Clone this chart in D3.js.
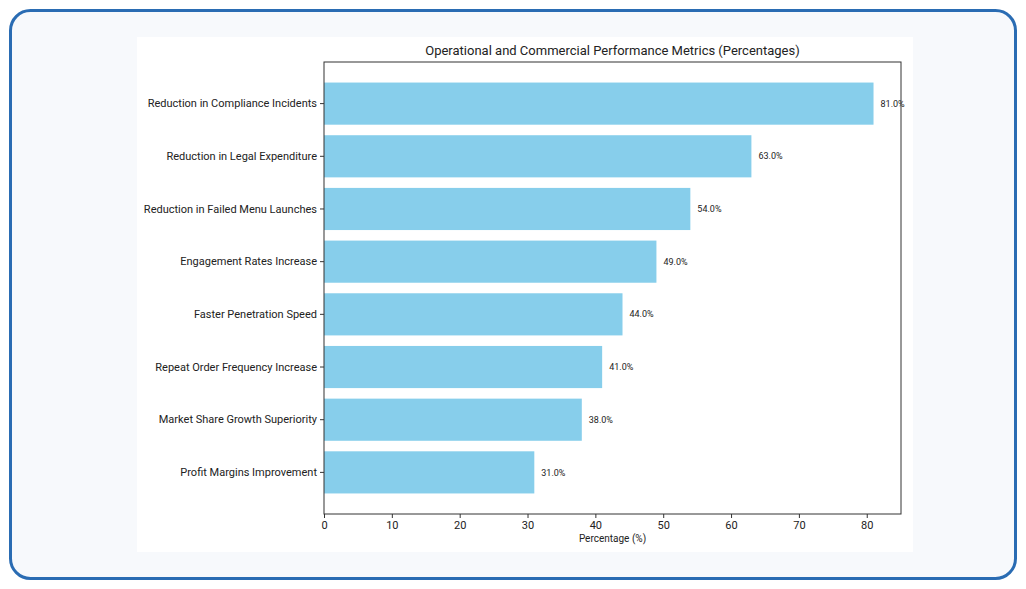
<!DOCTYPE html>
<html>
<head>
<meta charset="utf-8">
<script src="https://cdn.jsdelivr.net/npm/d3@7/dist/d3.min.js"></script>
<style>
  body { margin: 0; background: #ffffff; }
  text { font-family: Roboto, "Noto Sans", sans-serif; fill: #222; }
</style>
</head>
<body>
<div id="chart"></div>
<script>
// Metric names, top to bottom
let metrics = [
    "Reduction in Compliance Incidents",
    "Reduction in Legal Expenditure",
    "Reduction in Failed Menu Launches",
    "Engagement Rates Increase",
    "Faster Penetration Speed",
    "Repeat Order Frequency Increase",
    "Market Share Growth Superiority",
    "Profit Margins Improvement"
];
// Percentages for each metric
let values = [81, 63, 54, 49, 44, 41, 38, 31];
let xTicks = [0, 10, 20, 30, 40, 50, 60, 70, 80];

let width = 1026,
    height = 589;

let svg = d3.select("#chart")
    .append("svg")
    .attr("width", width)
    .attr("height", height);

// outer rounded frame
svg.append("rect")
    .attr("x", 10.5).attr("y", 10.5)
    .attr("width", 1005).attr("height", 568)
    .attr("rx", 20)
    .attr("fill", "#f7f9fc")
    .attr("stroke", "#2a6cb3")
    .attr("stroke-width", 3);

// white chart panel
svg.append("rect")
    .attr("x", 137).attr("y", 37)
    .attr("width", 776).attr("height", 515)
    .attr("fill", "#ffffff");

let plot = { left: 324, top: 62, right: 901, bottom: 514 };

let x = d3.scaleLinear()
    .domain([0, d3.max(values) * 1.05])
    .range([plot.left, plot.right]);

let y = d3.scaleBand()
    .domain(metrics)
    .range([plot.top, plot.bottom])
    .paddingInner(0.2)
    .paddingOuter(0.39);

// bars
svg.selectAll("rect.bar")
    .data(metrics)
    .enter()
    .append("rect")
    .attr("class", "bar")
    .attr("x", x(0))
    .attr("y", d => y(d))
    .attr("width", (d, i) => x(values[i]) - x(0))
    .attr("height", y.bandwidth())
    .attr("fill", "#87ceeb");

// value labels next to each bar
svg.selectAll("text.val")
    .data(metrics)
    .enter()
    .append("text")
    .attr("class", "val")
    .attr("x", (d, i) => x(values[i]) + 7)
    .attr("y", d => y(d) + y.bandwidth() / 2)
    .attr("dy", "0.35em")
    .style("font-size", "9px")
    .text((d, i) => values[i].toFixed(1) + "%");

// axes
let xAxis = svg.append("g")
    .attr("transform", `translate(0, ${plot.bottom})`)
    .call(d3.axisBottom(x).tickValues(xTicks).tickSizeOuter(0).tickSize(4).tickPadding(3));

let yAxis = svg.append("g")
    .attr("transform", `translate(${plot.left}, 0)`)
    .call(d3.axisLeft(y).tickSizeOuter(0).tickSize(4).tickPadding(3));

[xAxis, yAxis].forEach(g => {
    g.select(".domain").remove();
    g.selectAll("line").attr("stroke", "#333");
    g.selectAll("text")
        .style("font-size", "11px")
        .style("font-family", "Roboto, sans-serif")
        .attr("fill", "#222");
});

// spines
svg.append("rect")
    .attr("x", plot.left).attr("y", plot.top)
    .attr("width", plot.right - plot.left)
    .attr("height", plot.bottom - plot.top)
    .attr("fill", "none")
    .attr("stroke", "#333")
    .attr("stroke-width", 1);

// title
svg.append("text")
    .attr("x", (plot.left + plot.right) / 2)
    .attr("y", 55)
    .style("text-anchor", "middle")
    .style("font-size", "13px")
    .text("Operational and Commercial Performance Metrics (Percentages)");

// x-axis label
svg.append("text")
    .attr("x", (plot.left + plot.right) / 2)
    .attr("y", 542)
    .style("text-anchor", "middle")
    .style("font-size", "10px")
    .text("Percentage (%)");
</script>
</body>
</html>
